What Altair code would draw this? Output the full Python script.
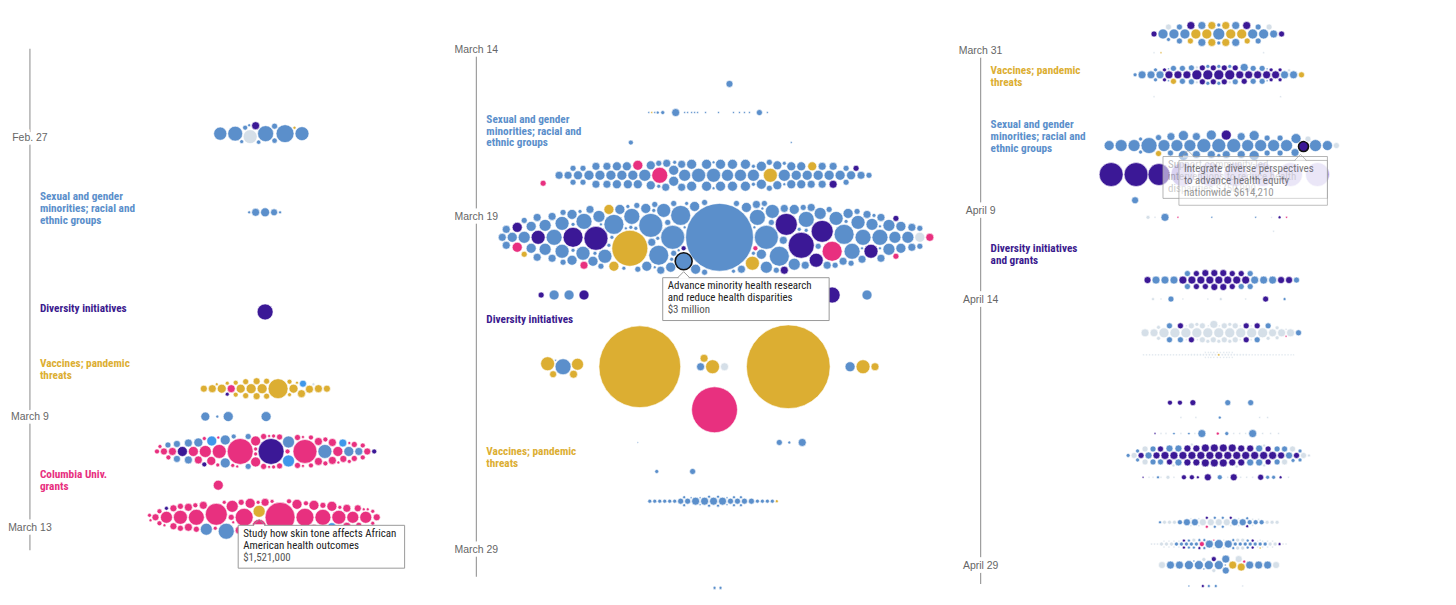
import math
import numpy as np
import pandas as pd
import altair as alt

# ---------------- colours ----------------
COLOR_CODES = ["b", "B", "p", "g", "k", "l", "v"]
COLOR_HEX = ["#5b8fcb", "#3f97ea", "#3b1896", "#dcae32", "#e8307f", "#d5dfe8", "#ab9be0"]
LABEL_HEX = {"b": "#5b8fcb", "p": "#3b1a8e", "g": "#dcae32", "k": "#e8307f"}

# ---------------- panel frame ----------------
PANEL_WIDTHS = [448, 504, 488]
PANEL_HEIGHT = 589
PANEL_DAY_RANGES = [(53.393, 74.43), (71.775, 89.373), (87.645, 120.68)]   # day of year
TIMELINE_X = [22, 20, 19]
TIMELINE_SPANS = [(54.82, 72.79), (73.0, 88.8), (90.0, 120.01)]
CLUSTER_X = 258

# ---------------- date ticks (day of year) ----------------
DATE_LABELS_1 = ["Feb. 27", "March 9", "March 13"]
DATE_DAYS_1 = [58, 68, 72]
DATE_LABELS_2 = ["March 14", "March 19", "March 29"]
DATE_DAYS_2 = [73, 78, 88]
DATE_LABELS_3 = ["March 31", "April 9", "April 14", "April 29"]
DATE_DAYS_3 = [90, 99, 104, 119]

# ---------------- category labels (text, colour, day) ----------------
CAT_LABELS_1 = [
    (["Sexual and gender", "minorities; racial and", "ethnic groups"], "b", 60.14),
    (["Diversity initiatives"], "p", 64.14),
    (["Vaccines; pandemic", "threats"], "g", 66.11),
    (["Columbia Univ.", "grants"], "k", 70.11),
]
CAT_LABELS_2 = [
    (["Sexual and gender", "minorities; racial and", "ethnic groups"], "b", 75.09),
    (["Diversity initiatives"], "p", 81.10),
    (["Vaccines; pandemic", "threats"], "g", 85.07),
]
CAT_LABELS_3 = [
    (["Vaccines; pandemic", "threats"], "g", 91.12),
    (["Sexual and gender", "minorities; racial and", "ethnic groups"], "b", 94.15),
    (["Diversity initiatives", "and grants"], "p", 101.16),
]

# ---------------- grants: amounts in $ thousands ----------------
# packed clusters: (day, x offset, aspect, {colour: [amounts]},
#                   highlight (colour, amount, outlined) or None,
#                   grants placed first near a spot [(colour, amount, dx, dy)])
P1_PACKED = [
    (57.86, 0, 4, {"b": [3360, 2660, 2300, 2035, 1800, 375, 300, 260, 200, 165, 95],
                   "l": [2035], "p": [665], "g": [95]}, None,
     [("b", 3360, 20, 0), ("l", 2035, -15, 3)]),
    (60.68, 0, 12, {"b": [95, 665, 840, 510, 95]}, None, []),
    (64.25, 0, 3, {"p": [2660]}, None, []),
    (67.0, 0, 8, {"g": [4150, 1040, 1040, 840, 840, 840, 665, 665, 665, 665, 510, 510, 510, 510,
                        375, 375, 375, 375, 260, 260, 260, 165, 165, 95, 95],
                  "k": [665], "p": [165], "B": [510], "l": [95]}, None,
     [("g", 4150, 13, 0), ("k", 665, -34, 0), ("B", 510, 38, -5)]),
    (69.25, 0, 7, {"k": [7015, 5980, 2035, 1500, 1040, 1040, 1040, 1040, 840, 665, 665, 665, 665, 665, 665,
                         510, 510, 510, 375, 375, 375, 375, 375, 375, 375, 375, 260, 260, 260, 260, 260, 260,
                         260, 260, 260, 165, 165, 165, 165, 165, 165, 165, 165, 165, 95, 95, 95, 95, 95, 95, 95, 95],
                   "p": [7015, 1040, 260, 260],
                   "b": [2035, 1500, 1040, 1040, 1040, 840, 665, 665, 665, 510, 510, 375, 375, 375, 260],
                   "B": [1500, 1040, 665]}, None,
     [("k", 7015, -25, 0), ("p", 7015, 6, 0), ("k", 5980, 40, 0)]),
    (71.61, 0, 7, {"k": [9340, 5020, 3360, 3360, 2660, 2660, 2035, 2035, 2035, 1495, 1495, 1495, 1495,
                         1040, 1040, 1040, 1040, 1040, 1040, 665, 665, 665, 665, 665, 665, 665, 665,
                         510, 510, 510, 510, 510, 510, 375, 375, 375, 375, 375, 375, 375, 375,
                         260, 260, 260, 260, 260, 260, 260, 260, 165, 165, 165, 165, 165, 165, 165, 165,
                         95, 95, 95, 95, 95, 95],
                   "g": [1521], "b": [2660, 1495], "B": [840], "p": [165]}, ("g", 1521, False),
     [("k", 9340, 15, 0), ("g", 1521, -4, -6), ("k", 5020, -49, -3), ("b", 2660, -40, 14)]),
]
# sparse rows: (day, [(colour, amount, x offset)])
P1_SPARSE = [
    (68.0, [("b", 840, -60), ("b", 95, -48), ("b", 1040, -37), ("b", 1040, 1)]),
    (70.46, [("k", 1040, -47)]),
]

P2_PACKED = [
    (76.76, 0, 11, {"b": [2035, 2035, 1495, 1495, 1495, 1495, 1495, 1495,
                          1040, 1040, 1040, 1040, 1040, 1040, 1040, 1040, 1040, 1040, 1040, 1040,
                          1040, 1040, 1040, 1040, 1040, 1040, 1040, 1040, 1040, 1040, 1040, 1040,
                          840, 840, 840, 840, 840, 840, 840, 840, 840, 840, 840, 840, 840, 840, 840,
                          665, 665, 665, 665, 665, 665, 665, 665, 665, 665, 665, 665, 665, 665, 665,
                          375, 375, 375, 375, 375, 375, 375, 375, 375, 375, 165, 165, 165, 165, 165, 95, 95, 95],
                    "k": [2660, 1040, 375], "g": [2035, 840], "p": [665, 375]}, None,
     [("k", 2660, -54, 0), ("g", 2035, 57, 0), ("k", 375, -171, 8)]),
    (78.62, 0, 6.2, {"b": [48000, 3000, 5980, 5980, 5980, 4150, 4150, 4150, 4150, 4150,
                           2660, 2660, 2660, 2660, 2660, 2660, 2660, 2660,
                           2035, 2035, 2035, 2035, 2035, 2035, 2035, 2035,
                           1495, 1495, 1495, 1495, 1495, 1495, 1495, 1495, 1495, 1495, 1495, 1495,
                           1040, 1040, 1040, 1040, 1040, 1040, 1040, 1040, 1040, 1040, 1040, 1040,
                           1040, 1040, 1040, 1040, 1040, 1040,
                           665, 665, 665, 665, 665, 665, 665, 665, 665, 665, 665, 665,
                           665, 665, 665, 665, 665, 665, 665, 665, 665, 665, 665, 665,
                           375, 375, 375, 375, 375, 375, 375, 375, 375, 375, 375, 375,
                           375, 375, 375, 375, 375, 375, 375, 375, 375, 375, 375, 375,
                           165, 165, 165, 165, 165, 165, 165, 165, 165, 165,
                           165, 165, 165, 165, 165, 165, 165, 165, 165, 165,
                           95, 95, 95, 95, 95, 95, 95, 95, 95, 95],
                     "g": [13450, 2035, 1040, 1040, 375],
                     "p": [7015, 5980, 5020, 5020, 4150, 2035, 2035, 2035, 1040, 665, 375, 260],
                     "k": [4150, 1040, 665, 665, 375, 260],
                     "l": [1040]}, ("b", 3000, True),
     [("b", 48000, 6, 0), ("g", 13450, -84, 11), ("b", 3000, -28, 24), ("p", 7015, 88, 8),
      ("k", 4150, 119, 14), ("p", 5980, -118, 1), ("g", 2035, 38, 25)]),
    (82.5, -151, 1.2, {"g": [665, 2035, 1495, 510], "b": [2660, 40]}, None, []),
    (82.5, -74, 1, {"g": [69800]}, None, []),
    (82.5, -1, 1.5, {"b": [665], "l": [665], "g": [2035, 665]}, None, []),
    (82.5, 75, 1, {"g": [73200]}, None, []),
    (82.5, 150, 2, {"g": [665, 2035], "b": [1040]}, None, []),
    (83.79, 1, 1, {"k": [21950]}, None, []),
    (86.53, 0, 14, {"b": [665, 665, 665, 665, 375, 375, 375, 375, 375, 375,
                          165, 165, 165, 165, 165, 165, 165, 165, 165, 165,
                          95, 95, 95, 95, 95, 95, 95, 95, 95, 95, 40, 40, 40, 40, 40],
                    "g": [95]}, None, []),
]
P2_SPARSE = [
    (74.02, [("b", 510, 16)]),
    (74.88, [("b", 40, -65), ("g", 40, -62), ("b", 40, -59), ("b", 95, -56), ("b", 165, -51),
             ("b", 665, -38), ("b", 40, -29), ("b", 40, -26), ("b", 40, -22), ("b", 40, -19),
             ("b", 40, -16), ("b", 40, -8), ("b", 40, 5), ("b", 40, 20), ("b", 40, 26),
             ("b", 40, 31), ("b", 40, 36), ("b", 375, 46), ("b", 40, 54)]),
    (75.78, [("b", 260, -83), ("b", 40, 78)]),
    (80.35, [("p", 375, -173), ("b", 1040, -160), ("b", 1040, -145), ("p", 1040, -130),
             ("p", 2660, 119), ("b", 1040, 154)]),
    (84.77, [("b", 20, -76), ("b", 375, 66), ("b", 95, 76), ("b", 665, 89)]),
    (85.64, [("b", 165, -57), ("b", 375, -21)]),
    (89.13, [("b", 95, 1), ("b", 95, 7)]),
]

P3_PACKED = [
    (89.05, 0, 6, {"g": [1040, 1040, 1040, 1040, 665, 665, 665, 665, 375, 375],
                   "b": [1495, 1040, 1040, 1040, 1040, 1040, 665, 665, 665, 665, 665, 375, 375, 375, 375, 165, 165, 165],
                   "p": [665, 665, 375, 375], "l": [375, 375]}, None, []),
    (91.35, 0, 10, {"p": [1040, 1040, 1040, 1040, 665, 665, 665, 665, 665, 665, 665, 665,
                          375, 375, 375, 375, 375, 375, 375, 375, 165, 165, 165, 165, 165, 165],
                    "b": [665, 665, 665, 665, 665, 665, 375, 375, 375, 375, 375, 375, 375, 375, 375, 375,
                          165, 165, 165, 165, 165, 165, 165, 165, 40, 40, 40, 40],
                    "g": [375, 375], "l": [95, 95, 95, 95]}, None, []),
    (95.33, 0, 11, {"b": [2660, 2035, 2035, 2035, 1495, 1495, 1495, 1495, 1495, 1495, 1495, 1495, 1495, 1495,
                          1040, 1040, 1040, 1040, 1040, 1040, 1040, 1040, 665, 665, 665, 665, 665, 665, 665, 665,
                          375, 375, 375, 375, 375, 375, 165, 165, 165],
                    "p": [1040, 1040], "g": [375], "l": [375, 375]}, ("p", 1040, True),
     [("p", 1040, 85, 1), ("b", 2660, -70, 0)]),
    (102.9, 0, 11, {"p": [665, 665, 665, 665, 665, 665, 665, 665, 510, 510, 510, 510, 510, 510, 510, 510,
                          375, 375, 375, 375, 375, 375],
                    "b": [665, 665, 665, 665, 665, 665, 375, 375, 375, 375, 375, 375]}, None, []),
    (105.87, 0, 9, {"l": [1040, 1040, 1040, 1040, 1040, 1040, 1040, 1040, 1040, 1040,
                          665, 665, 665, 665, 665, 665, 375, 375, 375, 375, 375, 375, 375, 375,
                          165, 165, 165, 165, 165, 165, 165, 165, 165, 165,
                          40, 40, 40, 40, 40, 40, 40, 40, 40, 40],
                    "p": [375, 375, 375, 375, 375], "b": [375, 375, 375, 375, 375, 375], "k": [40]}, None, []),
    (107.11, 0, 30, {"l": [40, 35, 45, 40, 30, 40, 50, 35, 40, 45, 40, 30, 35, 40, 45, 40, 50, 35, 40, 30,
                           40, 45, 35, 40, 40, 30, 45, 40, 35, 50, 40, 40, 35, 45, 30, 40, 40, 45, 35, 40,
                           40, 35, 45, 40, 30, 40, 50, 35, 40, 45, 40, 30, 35, 40, 45, 40, 50, 35, 40, 30,
                           40, 45, 35, 40, 40, 30, 45, 40, 35, 50],
                     "g": [60]}, None, []),
    (112.77, 0, 8, {"p": [665, 665, 665, 665, 665, 665, 665, 665, 665, 665, 665, 665, 665, 665, 665, 665,
                          665, 665, 665, 665, 510, 510, 510, 510, 510, 510, 510, 510, 510, 510,
                          375, 375, 375, 375, 375, 375],
                    "b": [510, 510, 510, 510, 510, 510, 510, 510, 375, 375, 375, 375, 375, 375,
                          165, 165, 165, 165, 165, 165],
                    "l": [375, 375, 375, 375, 375, 375, 95, 95, 95, 95, 95, 95]}, None, []),
    (116.53, 0, 13, {"l": [510, 510, 510, 510, 165, 165, 165, 165, 165, 165, 40, 40, 40, 40, 40, 40, 40, 40, 40, 40],
                     "b": [510, 510, 510, 510, 260, 260, 260, 260, 95, 95, 95, 95, 95, 95],
                     "p": [95, 95, 95], "k": [95]}, None, []),
    (117.76, 0, 14, {"b": [840, 665, 665, 165, 165, 165, 165, 165, 165, 165, 165, 165, 165, 165, 165,
                           95, 95, 95, 95, 95, 95, 95, 95, 95, 95],
                     "k": [260, 40],
                     "l": [165, 165, 165, 165, 165, 165, 165, 165, 165, 165,
                           40, 40, 40, 40, 40, 40, 40, 40, 40, 40, 40, 40, 40, 40, 40, 40, 40, 40, 40, 40,
                           40, 40, 40, 40, 40],
                     "p": [95, 95, 95, 95, 95, 95], "g": [40]}, None, []),
    (118.94, 0, 9, {"b": [840, 840, 840, 840, 665, 665, 665, 665, 665, 665, 510, 40, 40, 40],
                    "g": [665, 665], "l": [510, 510, 510, 165, 165], "p": [260], "k": [95]}, None,
     [("g", 665, 14, 0), ("g", 665, 20, 2)]),
]
P3_SPARSE = [
    (90.11, [("l", 40, -65), ("g", 40, -58), ("l", 40, 45)]),
    (92.58, [("l", 40, -65), ("l", 40, 62)]),
    (96.96, [("p", 5980, -108), ("p", 5980, -83), ("p", 5020, -60), ("v", 5980, -36), ("v", 5980, -9),
             ("v", 5980, 17), ("v", 5980, 44), ("v", 5980, 72), ("v", 5980, 99)]),
    (98.41, [("b", 510, -84)]),
    (99.37, [("l", 165, -71), ("l", 40, -64), ("b", 665, -54), ("k", 40, -41), ("b", 40, -7),
             ("b", 40, 37), ("l", 30, 53), ("p", 95, 61), ("k", 40, 68)]),
    (100.15, [("l", 40, 55)]),
    (103.97, [("l", 95, -66), ("l", 40, -58), ("b", 375, -48), ("l", 40, -36), ("l", 40, -11),
              ("l", 95, 2), ("l", 40, 27), ("p", 375, 47), ("b", 95, 66)]),
    (109.8, [("p", 260, -49), ("p", 260, -39), ("p", 375, -26), ("b", 375, 9), ("b", 375, 32)]),
    (110.64, [("l", 40, -38), ("l", 40, -23), ("b", 95, 1), ("l", 40, 41), ("l", 40, 49)]),
    (111.54, [("p", 40, -64), ("l", 40, -58), ("l", 40, -53), ("b", 60, -45), ("l", 40, -38),
              ("b", 60, -30), ("l", 40, -24), ("b", 665, -17), ("k", 95, -1), ("b", 165, 8),
              ("l", 40, 15), ("l", 40, 21), ("l", 40, 27), ("b", 665, 34), ("l", 40, 44),
              ("l", 40, 52), ("l", 40, 60)]),
    (114.0, [("p", 40, -76), ("l", 40, -70), ("l", 40, -66), ("b", 95, -61), ("l", 40, -58),
             ("l", 165, -51), ("l", 40, -45), ("p", 260, -35), ("p", 260, -27), ("p", 95, -21),
             ("p", 510, -11), ("b", 260, 1), ("l", 40, 9), ("p", 510, 15), ("l", 40, 22),
             ("l", 40, 28), ("l", 40, 34), ("p", 375, 42), ("b", 165, 49), ("b", 165, 55),
             ("p", 95, 62), ("l", 40, 70)]),
    (120.12, [("b", 40, -30), ("p", 95, -16), ("b", 95, -10), ("b", 95, -3), ("l", 40, 24)]),
]

# ---------------- tooltips ----------------
TOOLTIP_1 = ["Study how skin tone affects African", "American health outcomes", "$1,521,000"]
TOOLTIP_2 = ["Advance minority health research", "and reduce health disparities", "$3 million"]
GHOST_TIP_A = ["Support community-led", "interventions to reduce health", "disparities  $750,000"]
GHOST_TIP_B = ["Integrate diverse perspectives", "to advance health equity", "nationwide $614,210"]

FONT_LABEL = "Liberation Sans Narrow, Roboto Condensed, Liberation Sans, sans-serif"
FONT_DATE = "Liberation Sans, Roboto, sans-serif"

SIZE_PER_K = 4.0 / 41.5   # symbol area (px^2) per $1,000 -> r = sqrt(amount / 41.5)


def radius(a):
    return math.sqrt(a / 41.5)


def pack(rs, aspect, first=(), pad=0.7):
    """first: list of (index, dx, dy) placed first, as near as possible to (dx, dy)."""
    n = len(rs)
    first_idx = [f[0] for f in first]
    rest = sorted([i for i in range(n) if i not in first_idx], key=lambda i: (-rs[i], i))
    area = sum(math.pi * r * r for r in rs)
    b = math.sqrt(area / 0.5 / (math.pi * aspect))
    W = aspect * b * 1.5 + max(rs) + 8 + max([abs(f[1]) for f in first] + [0])
    H = b * 1.5 + max(rs) + 8 + max([abs(f[2]) for f in first] + [0])
    step = 0.5 if (2 * W / 0.5) * (2 * H / 0.5) < 300000 else 1.0
    nx, ny = int(W / step), int(H / step)
    xs = np.arange(-nx, nx + 1) * step
    ys = np.arange(-ny, ny + 1) * step
    X, Y = np.meshgrid(xs, ys)
    cost = (X / aspect) ** 2 + Y ** 2
    D = np.full(X.shape, np.inf)
    pos = [None] * n
    plan = [(i, dx, dy) for i, dx, dy in first] + [(i, None, None) for i in rest]
    for i, dx, dy in plan:
        r = rs[i]
        cst = cost if dx is None else (X - dx) ** 2 + (Y - dy) ** 2
        c = np.where(D >= r + pad, cst, np.inf)
        k = int(np.argmin(c))
        cx, cy = float(X.flat[k]), float(Y.flat[k])
        pos[i] = (cx, cy)
        D = np.minimum(D, np.hypot(X - cx, Y - cy) - r)
    return pos


def hexof(code):
    return COLOR_HEX[COLOR_CODES.index(code)]


def bubbles_for(packed, sparse, ppd):
    rows = []
    anchors = []
    for day, xoff, aspect, groups, hl, firsts in packed:
        items = [(c, a) for c, lst in groups.items() for a in lst]
        rs = [radius(a) for _, a in items]
        used = set()
        first = []
        for c0, a0, dx, dy in firsts:
            for j, (c, a) in enumerate(items):
                if j not in used and c == c0 and a == a0:
                    used.add(j)
                    first.append((j, dx, dy))
                    break
        pos = pack(rs, aspect, first)
        hl_idx = None
        if hl is not None:
            cands = [j for j, (c, a) in enumerate(items) if c == hl[0] and a == hl[1]]
            in_first = [j for j, _, _ in first if j in cands]
            hl_idx = in_first[0] if in_first else cands[0]
        for j, ((c, a), (px, py), r) in enumerate(zip(items, pos, rs)):
            x = CLUSTER_X + xoff + px
            y = day + py / ppd
            stroke, sw = "white", 0.6
            if j == hl_idx:
                anchors.append((x, y, r))
                if hl[2]:
                    stroke, sw = "#111111", 1.6
            rows.append(dict(x=x, y=y, amount=a, color=hexof(c), stroke=stroke, sw=sw))
    for day, items in sparse:
        for c, a, xo in items:
            rows.append(dict(x=CLUSTER_X + xo, y=day, amount=a, color=hexof(c), stroke="white", sw=0.6))
    df = pd.DataFrame(rows)
    df = df.sort_values("amount", ascending=False, kind="stable")
    return df, anchors


def tooltip_layers(tip_x, tip_day, left, width, height, lines, ppd, xs, ys, alpha=1.0, text_alpha=1.0):
    top = tip_day + 6 / ppd
    bottom = top + height / ppd
    box = pd.DataFrame([dict(x=left, x2=left + width, y=top, y2=bottom)])
    rect = alt.Chart(box).mark_rect(fill="white", fillOpacity=alpha, stroke="#9a9a9a",
                                    strokeOpacity=min(1, alpha + 0.2), strokeWidth=1).encode(
        x=xs, x2="x2:Q", y=ys, y2="y2:Q")
    cover = pd.DataFrame([dict(x=tip_x - 5, x2=tip_x + 5, y=top, y2=top)])
    cov = alt.Chart(cover).mark_rule(color="white", strokeWidth=2, opacity=alpha).encode(
        x=xs, x2="x2:Q", y=ys, y2="y2:Q")
    diag = pd.DataFrame([dict(x=tip_x - 6, x2=tip_x, y=top, y2=tip_day),
                         dict(x=tip_x, x2=tip_x + 6, y=tip_day, y2=top)])
    dg = alt.Chart(diag).mark_rule(color="#9a9a9a", strokeWidth=1, opacity=min(1, alpha + 0.2)).encode(
        x=xs, x2="x2:Q", y=ys, y2="y2:Q")
    trows = []
    for i, t in enumerate(lines):
        trows.append(dict(x=left + 5, y=top + (8.5 + 12 * i) / ppd, text=t,
                          color="#222222" if i < len(lines) - 1 else "#555555"))
    txt = alt.Chart(pd.DataFrame(trows)).mark_text(
        align="left", baseline="middle", font=FONT_LABEL, fontSize=11, opacity=text_alpha).encode(
        x=xs, y=ys, text="text:N", color=alt.Color("color:N", scale=None))
    return [rect, cov, dg, txt]


def build_panel(pi, packed, sparse, cats, dlabels, ddays, tips):
    W = PANEL_WIDTHS[pi]
    d0, d1 = PANEL_DAY_RANGES[pi]
    ppd = PANEL_HEIGHT / (d1 - d0)
    xs = alt.X("x:Q", scale=alt.Scale(domain=[0, W], nice=False, zero=False), axis=None)
    ys = alt.Y("y:Q", scale=alt.Scale(domain=[d0, d1], reverse=True, nice=False, zero=False), axis=None)
    lx = TIMELINE_X[pi]

    line_df = pd.DataFrame([dict(x=lx, y=TIMELINE_SPANS[pi][0], y2=TIMELINE_SPANS[pi][1])])
    line = alt.Chart(line_df).mark_rule(color="#9d9d9d", strokeWidth=1.2).encode(x=xs, y=ys, y2="y2:Q")

    ddf = pd.DataFrame(dict(x=[lx] * len(dlabels), y=ddays, text=dlabels))
    halo = alt.Chart(ddf).mark_text(font=FONT_DATE, fontSize=10.5, color="white", stroke="white",
                                    strokeWidth=7, baseline="middle").encode(x=xs, y=ys, text="text:N")
    dtxt = alt.Chart(ddf).mark_text(font=FONT_DATE, fontSize=10.5, color="#666666",
                                    baseline="middle").encode(x=xs, y=ys, text="text:N")

    crow = []
    for lines, c, day in cats:
        for i, t in enumerate(lines):
            crow.append(dict(x=lx + 10, y=day + 12 * i / ppd, text=t, color=LABEL_HEX[c]))
    ctxt = alt.Chart(pd.DataFrame(crow)).mark_text(
        font=FONT_LABEL, fontSize=11.3, fontWeight="bold", align="left", baseline="middle").encode(
        x=xs, y=ys, text="text:N", color=alt.Color("color:N", scale=None))

    bdf, anchors = bubbles_for(packed, sparse, ppd)
    bub = alt.Chart(bdf).mark_circle(opacity=1).encode(
        x=xs, y=ys,
        size=alt.Size("amount:Q", scale=alt.Scale(type="linear", domain=[0, 100000],
                                                   range=[0, 100000 * SIZE_PER_K]), legend=None),
        color=alt.Color("color:N", scale=None),
        stroke=alt.Stroke("stroke:N", scale=None),
        strokeWidth=alt.StrokeWidth("sw:Q", scale=None),
    )

    layers = [line, halo, dtxt, ctxt, bub]
    for spec in tips:
        if spec["kind"] == "anchor":
            ax, ay, r = anchors[spec["index"]]
            tip_day = ay + (r + 2) / ppd
            layers += tooltip_layers(ax, tip_day, ax - 21, 167, 43, spec["lines"], ppd, xs, ys)
        else:
            tip_x = CLUSTER_X + spec["tip_xoff"]
            layers += tooltip_layers(tip_x, spec["tip_day"], CLUSTER_X + spec["left_off"], spec["w"],
                                     spec["h"], spec["lines"], ppd, xs, ys,
                                     alpha=spec["alpha"], text_alpha=spec["talpha"])
    return alt.layer(*layers).properties(width=W, height=PANEL_HEIGHT)


p1 = build_panel(0, P1_PACKED, P1_SPARSE, CAT_LABELS_1, DATE_LABELS_1, DATE_DAYS_1,
                 [dict(kind="anchor", index=0, lines=TOOLTIP_1)])
p2 = build_panel(1, P2_PACKED, P2_SPARSE, CAT_LABELS_2, DATE_LABELS_2, DATE_DAYS_2,
                 [dict(kind="anchor", index=0, lines=TOOLTIP_2)])
p3 = build_panel(2, P3_PACKED, P3_SPARSE, CAT_LABELS_3, DATE_LABELS_3, DATE_DAYS_3,
                 [dict(kind="fixed", tip_xoff=-31, tip_day=95.61, left_off=-56, w=165, h=42,
                       lines=GHOST_TIP_A, alpha=0.55, talpha=0.3),
                  dict(kind="fixed", tip_xoff=82, tip_day=95.83, left_off=-40, w=149, h=45,
                       lines=GHOST_TIP_B, alpha=0.45, talpha=0.6)])

chart = alt.hconcat(p1, p2, p3, spacing=0).resolve_scale(
    x="independent", y="independent"
).properties(padding=0).configure_view(stroke=None)

chart.save("out.html", embed_options={"renderer": "svg", "actions": False})
